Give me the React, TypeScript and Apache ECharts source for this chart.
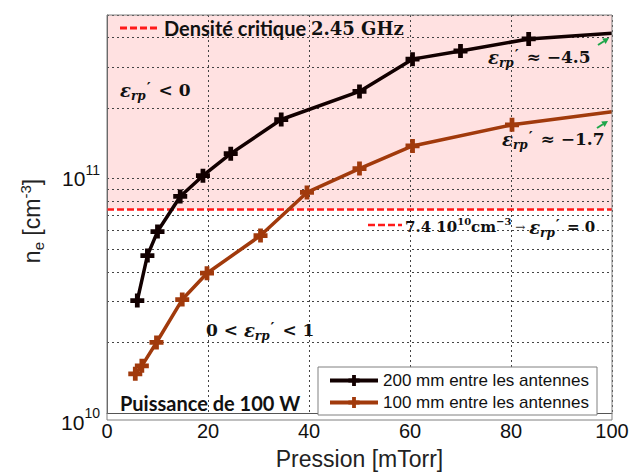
import React, { useEffect, useRef } from 'react';
import * as echarts from 'echarts';

// Données
const pression200 = [6, 8, 10, 14.5, 19, 24.5, 34.5, 50, 60.5, 70, 83.5, 100];
const densite200 = [3.02e10, 4.7e10, 5.95e10, 8.4e10, 1.03e11, 1.28e11, 1.79e11, 2.36e11, 3.24e11, 3.51e11, 3.95e11, 4.18e11];
const pression100 = [5.6, 6.9, 9.8, 14.9, 19.8, 30.4, 39.6, 50, 60.5, 80.2, 100];
const densite100 = [1.47e10, 1.59e10, 2.0e10, 3.05e10, 3.95e10, 5.72e10, 8.74e10, 1.105e11, 1.38e11, 1.7e11, 1.93e11];
const legendLabels = ['200 mm entre les antennes', '100 mm entre les antennes'];
const densiteCritique = 7.4e10;
const yMin = 1e10;
const yMax = 5e11;
const xMin = 0;
const xMax = 100;
const xInterval = 20;
const minorGrid = [2e10, 3e10, 4e10, 5e10, 6e10, 7e10, 8e10, 9e10, 2e11, 3e11, 4e11];

const PLUS = 'path://M3.3,0H6.7V3.3H10V6.7H6.7V10H3.3V6.7H0V3.3H3.3Z';
const MATH = 'DejaVu Serif';
const SANS = 'Liberation Sans';

function arrow(x1: number, y1: number, x2: number, y2: number, color: string) {
  const dx = x2 - x1, dy = y2 - y1, L = Math.hypot(dx, dy);
  const ux = dx / L, uy = dy / L;
  const hl = 6, hw = 3.2;
  const bx = x2 - ux * hl, by = y2 - uy * hl;
  return [
    { type: 'line', shape: { x1, y1, x2: bx, y2: by }, style: { stroke: color, lineWidth: 2 }, z: 10 },
    { type: 'polygon', shape: { points: [[x2, y2], [bx - uy * hw, by + ux * hw], [bx + uy * hw, by - ux * hw]] }, style: { fill: color }, z: 10 },
  ];
}

const mathRich: any = {
  t: { fontFamily: MATH, fontWeight: 'bold', fontSize: 17, fill: '#111' },
  u: { fontFamily: MATH, fontWeight: 'bold', fontSize: 15, fill: '#111' },
  e: { fontFamily: MATH, fontWeight: 'bold', fontStyle: 'italic', fontSize: 18, fill: '#111' },
  r: { fontFamily: MATH, fontWeight: 'bold', fontStyle: 'italic', fontSize: 12, fill: '#111', padding: [11, 0, 0, 0] },
  p: { fontFamily: MATH, fontWeight: 'bold', fontSize: 15, fill: '#111', padding: [0, 2, 5, 1] },
  s: { fontFamily: MATH, fontWeight: 'bold', fontSize: 10, fill: '#111', padding: [0, 0, 12, 0] },
  a: { fontFamily: MATH, fontSize: 12, fill: '#333' },
};

function mathText(text: string, x: number, y: number) {
  return {
    type: 'text', x, y, z: 10,
    style: { text, rich: mathRich, align: 'left', verticalAlign: 'middle' },
  };
}

export default function App() {
  const ref = useRef<HTMLDivElement>(null);
  useEffect(() => {
    document.body.style.margin = '0';
    const chart = echarts.init(ref.current!, null, { renderer: 'svg' });
    const toData = (xs: number[], ys: number[]) =>
      xs.map((x, i) => (i === xs.length - 1 ? { value: [x, ys[i]], symbol: 'none' } : [x, ys[i]]));

    chart.setOption({
      animation: false,
      backgroundColor: '#ffffff',
      grid: { left: 107, right: 21, top: 15, bottom: 55, containLabel: false },
      legend: {
        data: legendLabels,
        orient: 'vertical',
        left: 318,
        top: 367,
        padding: [5, 8, 4, 10],
        itemWidth: 48,
        itemHeight: 14,
        itemGap: 5,
        backgroundColor: '#ffffff',
        borderColor: '#808080',
        borderWidth: 1,
        borderRadius: 0,
        lineStyle: { width: 4 },
        textStyle: { fontFamily: SANS, fontSize: 17, color: '#111' },
      },
      xAxis: {
        type: 'value', min: xMin, max: xMax, interval: xInterval,
        name: 'Pression [mTorr]', nameLocation: 'middle', nameGap: 34,
        nameTextStyle: { fontFamily: SANS, fontSize: 23, color: '#222' },
        axisLine: { show: true, lineStyle: { color: '#555', width: 1 } },
        axisTick: { show: false },
        axisLabel: { margin: 8, fontFamily: SANS, fontSize: 20, color: '#111' },
        splitLine: { show: true, lineStyle: { type: [2, 3], color: '#444', width: 1 } },
      },
      yAxis: {
        type: 'log', logBase: 10, min: yMin, max: yMax,
        axisLine: { show: true, lineStyle: { color: '#555', width: 1 } },
        axisTick: { show: false },
        axisLabel: {
          margin: 7,
          formatter: (v: number) => {
            const e = Math.log10(v);
            if (Math.abs(e - Math.round(e)) > 1e-6) return '';
            const n = Math.round(e);
            return v <= yMin * 1.0001 ? `{b2|10}{s2|${n}}` : `{b|10}{s|${n}}`;
          },
          rich: {
            b: { fontFamily: SANS, fontSize: 21, color: '#111' },
            s: { fontFamily: SANS, fontSize: 14, color: '#111', padding: [0, 0, 18, 0] },
            b2: { fontFamily: SANS, fontSize: 21, color: '#111', padding: [18, 0, 0, 0] },
            s2: { fontFamily: SANS, fontSize: 14, color: '#111' },
          },
        },
        splitLine: { show: true, lineStyle: { type: [2, 3], color: '#444', width: 1 } },
      },
      series: [
        {
          name: 'fond',
          type: 'line',
          data: [],
          silent: true,
          markArea: {
            z: -1,
            silent: true,
            itemStyle: { color: '#ffe1e1' },
            data: [[{ yAxis: densiteCritique }, { yAxis: yMax }]],
          },
          markLine: {
            z: 1,
            silent: true,
            symbol: ['none', 'none'],
            label: { show: false },
            data: [
              ...minorGrid.map((v) => ({ yAxis: v, lineStyle: { type: [2, 3], color: '#444', width: 1 } })),
              { yAxis: densiteCritique, lineStyle: { type: [7, 3], color: '#ff1a1a', width: 2.5 } },
            ],
          },
        },
        {
          name: legendLabels[0],
          type: 'line',
          data: toData(pression200, densite200),
          symbol: PLUS,
          symbolSize: 14,
          showAllSymbol: true,
          itemStyle: { color: '#120000' },
          lineStyle: { color: '#120000', width: 3.5 },
          z: 3,
        },
        {
          name: legendLabels[1],
          type: 'line',
          data: toData(pression100, densite100),
          symbol: PLUS,
          symbolSize: 14,
          showAllSymbol: true,
          itemStyle: { color: '#a13a0c' },
          lineStyle: { color: '#a13a0c', width: 3.5 },
          z: 3,
        },
      ],
      graphic: [
        // cadre
        { type: 'rect', shape: { x: 107, y: 15, width: 505, height: 405 }, style: { fill: 'none', stroke: '#808080', lineWidth: 1 }, z: 20, silent: true },
        // légende densité critique
        { type: 'line', shape: { x1: 120, y1: 28, x2: 158, y2: 28 }, style: { stroke: '#ff1a1a', lineWidth: 3, lineDash: [7, 3] }, z: 10 },
        {
          type: 'text', x: 164, y: 28, z: 10,
          style: {
            text: '{a|Densité critique }{b|2.45 GHz}',
            align: 'left', verticalAlign: 'middle',
            rich: {
              a: { fontFamily: 'Lato', fontWeight: 'bold', fontSize: 20, fill: '#111' },
              b: { fontFamily: MATH, fontWeight: 'bold', fontSize: 18, fill: '#111' },
            },
          },
        },
        mathText('{e|ε}{r|rp}{p|′}{t| < 0}', 120, 90),
        mathText('{e|ε}{r|rp}{p|′}{t| ≈ −4.5}', 488, 57),
        mathText('{e|ε}{r|rp}{p|′}{t| ≈ −1.7}', 502, 139),
        mathText('{t|0 < }{e|ε}{r|rp}{p|′}{t| < 1}', 206, 330),
        { type: 'line', shape: { x1: 368, y1: 225, x2: 402, y2: 225 }, style: { stroke: '#ff1a1a', lineWidth: 2.5, lineDash: [7, 3] }, z: 10 },
        mathText('{u|7.4 10}{s|10}{u|cm}{s|−3}{a| → }{e|ε}{r|rp}{p|′}{u| = 0}', 405, 227),
        {
          type: 'text', x: 120, y: 403, z: 10,
          style: { text: 'Puissance de 100 W', fontFamily: 'Lato', fontWeight: 'bold', fontSize: 20, fill: '#111', align: 'left', verticalAlign: 'middle' },
        },
        ...arrow(598, 45, 609, 38, '#1fa64a'),
        ...arrow(597, 128, 608, 121, '#1fa64a'),
        {
          type: 'text', x: 32, y: 221, rotation: Math.PI / 2, z: 10,
          style: {
            text: '{n|n}{b|e}{n| [cm}{u|-3}{n|]}',
            align: 'center', verticalAlign: 'middle',
            rich: {
              n: { fontFamily: SANS, fontSize: 23, fill: '#222' },
              b: { fontFamily: SANS, fontSize: 15, fill: '#222', padding: [12, 0, 0, 0] },
              u: { fontFamily: SANS, fontSize: 15, fill: '#222', padding: [0, 0, 14, 0] },
            },
          },
        },
      ],
    });
    return () => chart.dispose();
  }, []);
  return <div ref={ref} style={{ width: 633, height: 475 }} />;
}
